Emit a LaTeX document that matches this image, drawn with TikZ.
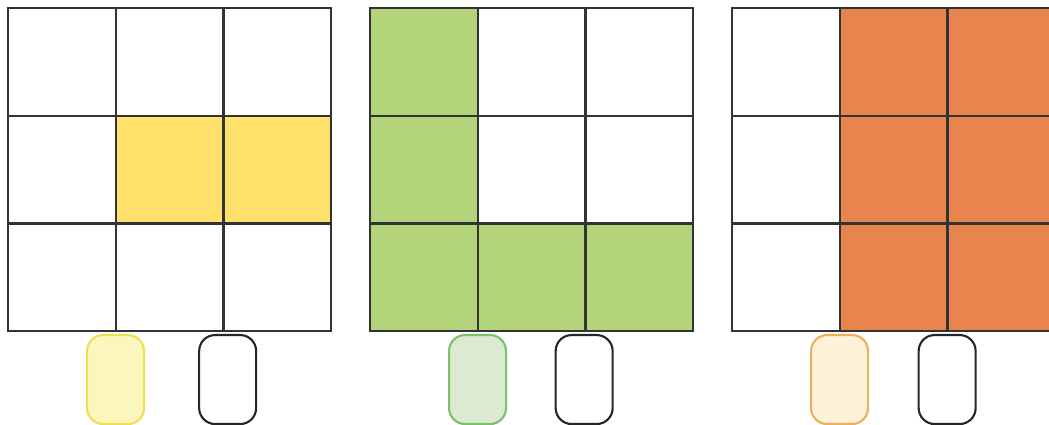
\documentclass[tikz,border=0pt]{standalone}
\usetikzlibrary{positioning}
\definecolor{cellyellow}{HTML}{FEE06A}
\definecolor{cellgreen}{HTML}{B4D47B}
\definecolor{cellorange}{HTML}{E8854F}
\definecolor{chipyellow}{HTML}{FBF5BE}
\definecolor{rimyellow}{HTML}{EEE050}
\definecolor{chipgreen}{HTML}{DDEAD3}
\definecolor{rimgreen}{HTML}{7DBF6B}
\definecolor{chiporange}{HTML}{FDF1D8}
\definecolor{rimorange}{HTML}{E9B15A}
\begin{document}
\begin{tikzpicture}[x=0.1mm, y=-0.1mm,
    cell/.style={draw=black!80, line width=0.7pt, minimum size=10.767mm, inner sep=0pt, anchor=north west},
    chip/.style={rounded corners=1.6mm, line width=0.6pt, minimum width=5.7mm, minimum height=8.9mm, inner sep=0pt, anchor=north west},
    blankchip/.style={chip, draw=black!85, fill=white}]
        \useasboundingbox (0,0) rectangle (1049,425);
        % First grid
        \foreach \r/\c/\shade in {0/0/white,0/1/white,0/2/white,1/0/white,1/1/cellyellow,1/2/cellyellow,2/0/white,2/1/white,2/2/white}
            \node[cell, fill=\shade] (a\r\c) at ({7+107.67*\c},{7+107.67*\r}) {};
        % Second grid
        \foreach \r/\c/\shade in {0/0/cellgreen,0/1/white,0/2/white,1/0/cellgreen,1/1/white,1/2/white,2/0/cellgreen,2/1/cellgreen,2/2/cellgreen}
            \node[cell, fill=\shade] (b\r\c) at ({369+107.67*\c},{7+107.67*\r}) {};
        % Third grid
        \foreach \r/\c/\shade in {0/0/white,0/1/cellorange,0/2/cellorange,1/0/white,1/1/cellorange,1/2/cellorange,2/0/white,2/1/cellorange,2/2/cellorange}
            \node[cell, fill=\shade] (c\r\c) at ({731+107.67*\c},{7+107.67*\r}) {};
        
        % Chips
        \node[chip, draw=rimyellow, fill=chipyellow] (ya) at (86,334) {};
        \node[blankchip] (yb) [right=5.3mm of ya] {};
        \node[chip, draw=rimgreen, fill=chipgreen] (ga) at (448,334) {};
        \node[blankchip] (gb) [right=4.75mm of ga] {};
        \node[chip, draw=rimorange, fill=chiporange] (oa) at (810,334) {};
        \node[blankchip] (ob) [right=4.85mm of oa] {};
    \end{tikzpicture}
\end{document}
